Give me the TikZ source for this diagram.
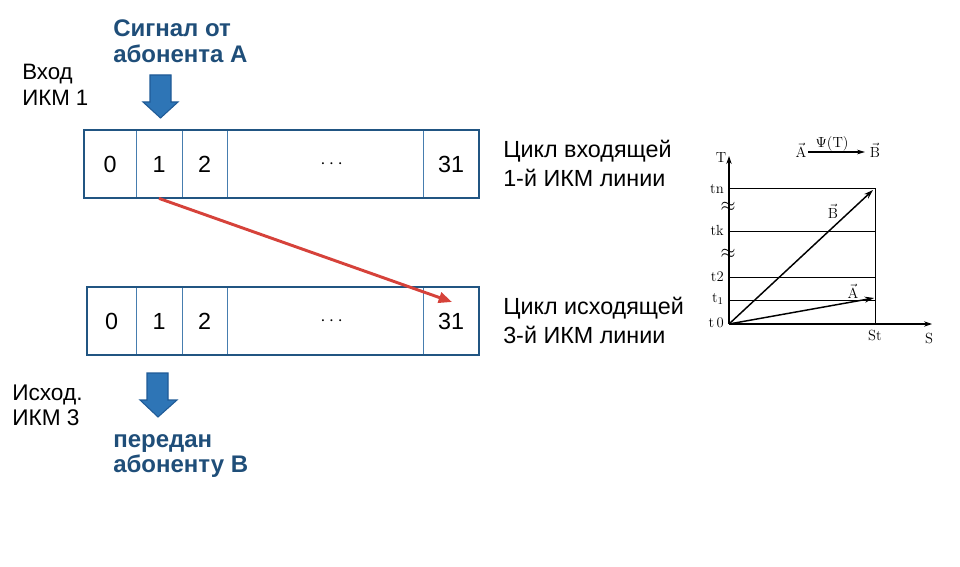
\documentclass[tikz,border=0pt]{standalone}
\usepackage{fontspec}
\setsansfont{Liberation Sans}
\usetikzlibrary{arrows.meta,fit}
\definecolor{txtblue}{RGB}{31,78,121}
\definecolor{boxdark}{RGB}{33,85,130}
\definecolor{cellblue}{RGB}{70,125,175}
\definecolor{arrfill}{RGB}{46,117,182}
\definecolor{arredge}{RGB}{31,90,150}
\definecolor{redarr}{RGB}{214,66,58}
\begin{document}
\begin{tikzpicture}[x=0.75pt,y=-0.75pt,
  cell/.style={draw=cellblue,line width=0.6pt,minimum height=51pt,inner sep=0pt,font=\sffamily\fontsize{17.5}{20}\selectfont},
  frame/.style={draw=boxdark,line width=1.6pt,inner sep=0pt},
  lbl/.style={anchor=base west,inner sep=0pt,align=left,font=\sffamily\fontsize{17.5}{21.75}\selectfont},
  bluelbl/.style={anchor=base west,inner sep=0pt,align=left,text=txtblue,font=\sffamily\bfseries\fontsize{18}{19.5}\selectfont},
  blockarrow/.style={fill=arrfill,draw=arredge,line width=0.8pt},
  redarrow/.style={draw=redarr,line width=2.2pt,-{Triangle[length=10pt,width=8pt]}},
  axis/.style={line width=0.8pt,-{Stealth[length=6pt,width=4pt]}},
  gridline/.style={line width=0.6pt},
  vecarrow/.style={line width=1.1pt,-{Stealth[length=7pt,width=4.5pt]}},
  glbl/.style={inner sep=0pt,font=\rmfamily\fontsize{11}{13}\selectfont},
  dotsfont/.style={font=\fontsize{14.5}{16}\selectfont},
]
\useasboundingbox (0,0) rectangle (960,567);

% top frame cells
\node[cell,minimum width=39pt]    (a0)  at (110,164)   {0};
\node[cell,minimum width=34.5pt]  (a1)  at (159,164)   {1};
\node[cell,minimum width=33.75pt] (a2)  at (204.5,164) {2};
\node[cell,minimum width=147pt,dotsfont] (ad)  at (325,164) {\hspace*{10pt}$\cdots$};
\node[cell,minimum width=42pt]    (a31) at (451,164)   {31};
\node[frame,fit=(a0)(a31)] (frameA) {};

% bottom frame cells
\node[cell,minimum width=36.75pt] (b0)  at (111.5,321) {0};
\node[cell,minimum width=34.5pt]  (b1)  at (159,321)   {1};
\node[cell,minimum width=33.75pt] (b2)  at (204.5,321) {2};
\node[cell,minimum width=147pt,dotsfont] (bd)  at (325,321) {\hspace*{10pt}$\cdots$};
\node[cell,minimum width=42pt]    (b31) at (451,321)   {31};
\node[frame,fit=(b0)(b31)] (frameB) {};

% labels (anchor = baseline of the last line)
\node[bluelbl] (sig) at (113,63) {Сигнал от\\абонента А};
\node[lbl,font=\sffamily\fontsize{16.7}{19.5}\selectfont] (in1) at (22,105) {Вход\\ИКМ 1};
\node[lbl,font=\sffamily\fontsize{17}{18.5}\selectfont] (out3) at (12,425) {Исход.\\ИКМ 3};
\node[bluelbl,font=\sffamily\bfseries\fontsize{18}{18.5}\selectfont] (peredan) at (113,472) {передан\\абоненту В};
\node[lbl] (cyc1) at (503,186) {Цикл входящей\\1-й ИКМ линии};
\node[lbl] (cyc3) at (503,343) {Цикл исходящей\\3-й ИКМ линии};

% block arrows
\draw[blockarrow] (150,75) -- (171,75) -- (171,102) -- (178,102) -- (160.5,118) -- (143,102) -- (150,102) -- cycle;
\draw[blockarrow] (147,373) -- (168,373) -- (168,400) -- (177,400) -- (158,417) -- (140,400) -- (147,400) -- cycle;

% red connector
\coordinate (redtip) at (452,302);
\draw[redarrow] (a1.south) -- (redtip);

% graph
\coordinate (O) at (729,324);
\coordinate (Tend) at (729,156);
\coordinate (Send) at (932,324);
\coordinate (Stop) at (875,188);
\coordinate (Sbot) at (875,324);
\draw[axis] (O) -- (Tend);
\draw[axis] (O) -- (Send);
\draw[gridline] (Sbot) -- (Stop);
\draw[gridline] (729,188) -- (875,188);
\draw[gridline] (729,231) -- (875,231);
\draw[gridline] (729,277) -- (875,277);
\draw[gridline] (729,300) -- (875,300);
\draw[vecarrow] (O) -- (873,190);
\draw[vecarrow] (O) -- (874,298);

\node[glbl,anchor=east] (ltn) at (724,189) {tn};
\node[glbl,anchor=east] (ltk) at (724,230) {tk};
\node[glbl,anchor=east] (lt2) at (724,277) {t2};
\node[glbl,anchor=east] (lt1) at (724,299) {t\textsubscript{1}};
\node[glbl,anchor=east] (lt0) at (724,323) {t\,0};
\node[glbl,font=\fontsize{15}{16}\selectfont] (apx1) at (728,207) {$\approx$};
\node[glbl,font=\fontsize{15}{16}\selectfont] (apx2) at (728,254) {$\approx$};
\node[glbl] (lT) at (721,158) {T};
\node[glbl] (lSt) at (875,335) {St};
\node[glbl] (lS) at (929,338) {S};
\node[glbl] (vB) at (833,211) {$\vec{\mathrm{B}}$};
\node[glbl] (vA) at (853,291) {$\vec{\mathrm{A}}$};
\node[glbl] (fA) at (801,150) {$\vec{\mathrm{A}}$};
\node[glbl] (fB) at (875,150) {$\vec{\mathrm{B}}$};
\node[glbl] (psi) at (832,144) {$\Psi$(T)};
\draw[line width=0.8pt,-{Stealth[length=6pt,width=3.5pt]}] (808,152) -- (865,152);
\end{tikzpicture}
\end{document}
